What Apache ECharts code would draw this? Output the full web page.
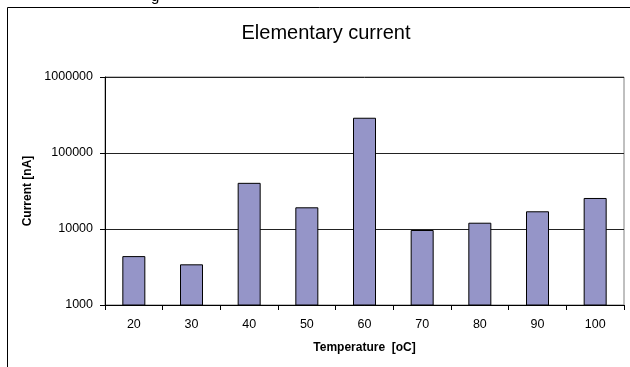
<!DOCTYPE html>
<html>
<head>
<meta charset="utf-8">
<script src="https://cdn.jsdelivr.net/npm/echarts@6/dist/echarts.min.js"></script>
<style>html,body{margin:0;padding:0;background:#fff}#c{width:630px;height:367px}</style>
</head>
<body>
<div id="c"></div>
<script>
const categories = ['20','30','40','50','60','70','80','90','100'];
const currentValues = [4400, 3430, 40500, 19300, 291000, 9700, 12100, 17100, 25600];
const yTickLabels = ['1000','10000','100000','1000000'];
const titleText = 'Elementary current';
const xAxisTitle = 'Temperature  [oC]';
const yAxisTitle = 'Current [nA]';

const chart = echarts.init(document.getElementById('c'), null, {renderer:'canvas'});
const font = '"Liberation Sans", Arial, sans-serif';
chart.setOption({
  animation: false,
  backgroundColor: '#fff',
  title: {
    text: titleText, left: 321, top: 18, textAlign: 'center',
    textStyle: {fontFamily: font, fontSize: 20, fontWeight: 'normal', color: '#000'}
  },
  graphic: [
    {type:'rect', shape:{x:7.5, y:7.5, width:700, height:500}, style:{fill:null, stroke:'#000', lineWidth:1}, silent:true, z:-1},
    {type:'text', style:{x:151, y:4, text:'g', font:'15px "Liberation Sans", Arial', fill:'#000', verticalAlign:'bottom'}, silent:true}
  ],
  grid: {left:105, right:6, top:77, bottom:62, show:true, borderColor:'#808080', borderWidth:1, containLabel:false},
  xAxis: {
    type: 'category', data: categories,
    name: xAxisTitle, nameLocation: 'middle', nameGap: 37,
    nameTextStyle: {fontFamily: font, fontSize: 12, fontWeight: 'bold', color:'#000'},
    axisLine: {show:true, lineStyle:{color:'#000', width:1}},
    axisTick: {show:true, alignWithLabel:false, length:5, inside:false, lineStyle:{color:'#000'}},
    axisLabel: {fontFamily: font, fontSize: 12.5, color:'#000', margin: 13},
    splitLine: {show:false}
  },
  yAxis: {
    type: 'log', logBase: 10, min: 1000, max: 1000000,
    name: yAxisTitle, nameLocation: 'middle', nameGap: 70,
    nameTextStyle: {fontFamily: font, fontSize: 12, fontWeight: 'bold', color:'#000'},
    axisLine: {show:true, lineStyle:{color:'#000', width:1}},
    axisTick: {show:true, length:5, lineStyle:{color:'#000'}},
    axisLabel: {fontFamily: font, fontSize: 12.5, color:'#000', margin: 12,
      formatter: v => yTickLabels.includes(String(Math.round(v))) ? String(Math.round(v)) : ''},
    splitLine: {show:true, lineStyle:{color:'#222', width:1}},
    minorTick: {show:false}
  },
  series: [{
    type: 'bar', data: currentValues, barWidth: 23,
    itemStyle: {color:'#9595C8', borderColor:'#000', borderWidth:1}
  }]
});
</script>
</body>
</html>
